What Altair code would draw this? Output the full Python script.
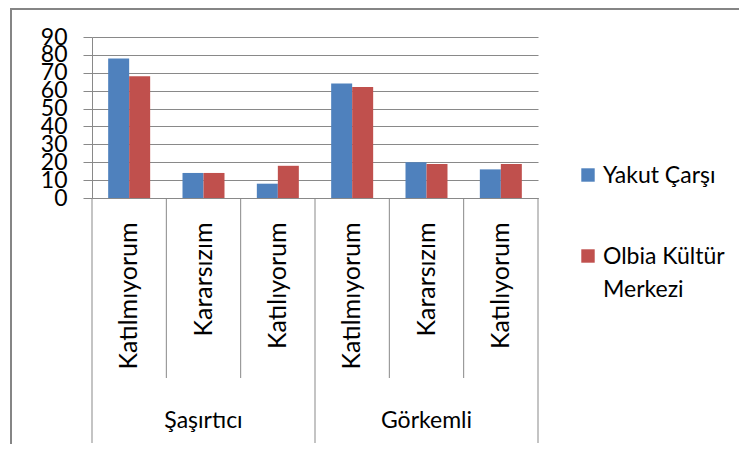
import altair as alt
import pandas as pd

groups = ["Şaşırtıcı", "Görkemli"]
categories = ["Katılmıyorum", "Kararsızım", "Katılıyorum"]
series = ["Yakut Çarşı", "Olbia Kültür Merkezi"]
legend_text = ["Yakut Çarşı", "Olbia Kültür\nMerkezi"]
yakut = [78, 14, 8, 64, 20, 16]
olbia = [68, 14, 18, 62, 19, 19]
y_ticks = [0, 10, 20, 30, 40, 50, 60, 70, 80, 90]
colors = ["#4F81BD", "#C0504D"]

FONT = "Lato"
FS = 23
GRAY = "#898989"

keys = [f"{g}|{c}" for g in groups for c in categories]
rows = []
for i, k in enumerate(keys):
    rows.append({"key": k, "series": series[0], "value": yakut[i]})
    rows.append({"key": k, "series": series[1], "value": olbia[i]})
bars_df = pd.DataFrame(rows)

minor_df = pd.DataFrame({"key": [k for k in keys if k.split("|")[1] != categories[0]]})
major_df = pd.DataFrame({"key": [k for k in keys if k.split("|")[1] == categories[0]]})
end_df = pd.DataFrame({"key": [keys[-1]]})
group_df = pd.DataFrame({"key": [f"{g}|{categories[1]}" for g in groups], "label": groups})
legend_df = pd.DataFrame({"series": series, "text": legend_text})
border_df = pd.DataFrame({"a": [0]})

x_axis = alt.Axis(
    title=None,
    labelExpr="split(datum.value, '|')[1]",
    labelAngle=270,
    labelFont=FONT,
    labelFontSize=25,
    labelColor="#000000",
    labelPadding=24,
    labelLimit=300,
    ticks=False,
    domain=True,
    domainColor=GRAY,
    grid=False,
)
x_scale = alt.Scale(paddingInner=0, paddingOuter=0)


def xenc(bp=None):
    if bp is None:
        return alt.X("key:N", sort=keys, scale=x_scale, axis=x_axis)
    return alt.X("key:N", sort=keys, scale=x_scale, axis=x_axis, bandPosition=bp)


color = alt.Color("series:N", sort=series,
                  scale=alt.Scale(domain=series, range=colors), legend=None)

border = alt.Chart(border_df).mark_rect(
    filled=False, stroke="#858585", strokeWidth=2
).encode(
    x=alt.value(-81), x2=alt.value(700), y=alt.value(-28), y2=alt.value(500)
)

bars = alt.Chart(bars_df).mark_bar().encode(
    x=xenc(),
    xOffset=alt.XOffset("series:N", sort=series,
                        scale=alt.Scale(paddingInner=0, paddingOuter=0.77)),
    y=alt.Y("value:Q",
            scale=alt.Scale(domain=[0, 90], nice=False, zero=True),
            axis=alt.Axis(
                title=None, values=y_ticks, labelFont=FONT, labelFontSize=FS,
                labelColor="#000000", labelPadding=16, labelOverlap=False,
                labelFlush=False, tickSize=9, tickColor=GRAY, domainColor=GRAY,
                gridColor=GRAY, grid=True,
            )),
    color=color,
)

minor = alt.Chart(minor_df).mark_rule(color=GRAY, strokeWidth=1).encode(
    x=xenc(0), y=alt.value(161), y2=alt.value(341)
)
major = alt.Chart(major_df).mark_rule(color=GRAY, strokeWidth=1).encode(
    x=xenc(0), y=alt.value(161), y2=alt.value(406)
)
end = alt.Chart(end_df).mark_rule(color=GRAY, strokeWidth=1).encode(
    x=xenc(1), y=alt.value(161), y2=alt.value(406)
)

group_text = alt.Chart(group_df).mark_text(
    font=FONT, fontSize=FS, color="#000000", align="center", baseline="alphabetic"
).encode(
    x=xenc(0.5), y=alt.value(391), text="label:N"
)

leg_y = alt.Y("series:N", sort=series,
              scale=alt.Scale(type="point", range=[138, 219], padding=0), axis=None)

leg_sq = alt.Chart(legend_df).mark_square(size=180, opacity=1).encode(
    x=alt.value(496), y=leg_y, color=color
)
leg_tx = alt.Chart(legend_df).mark_text(
    font=FONT, fontSize=FS, color="#000000", align="left", baseline="alphabetic",
    dy=8, lineBreak="\n", lineHeight=33
).encode(
    x=alt.value(511), y=leg_y, text="text:N"
)

chart = alt.layer(
    border, bars, minor, major, end, group_text, leg_sq, leg_tx
).resolve_scale(y="independent").properties(
    width=446, height=161,
    padding={"left": 84, "top": 29, "right": 201, "bottom": 246},
    autosize=alt.AutoSizeParams(type="none"),
    background="white",
).configure_view(stroke=None)

chart.save("out.html", embed_options={"renderer": "svg", "actions": False})
